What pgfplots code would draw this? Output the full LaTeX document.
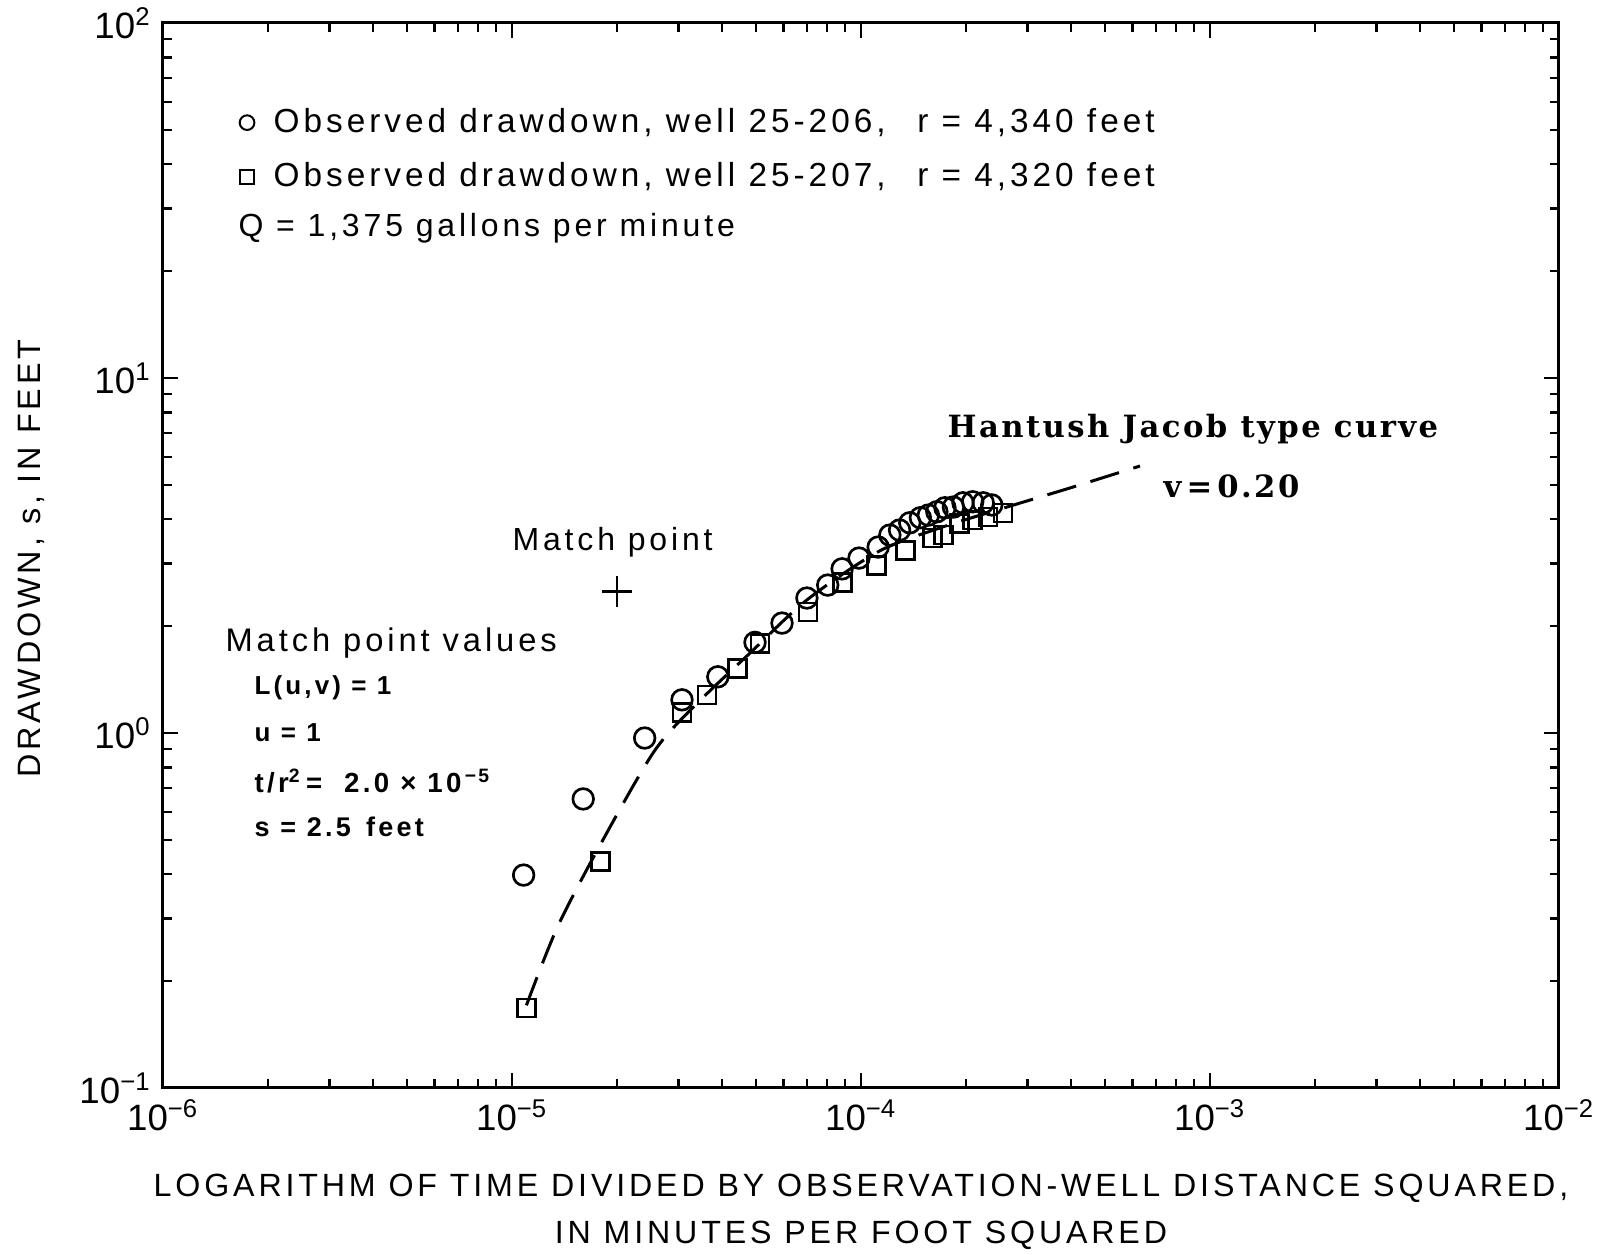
\documentclass[border=0pt]{standalone}
\usepackage{pgfplots}
\pgfplotsset{compat=1.18}
\usepackage{fontspec}
\setmainfont{Liberation Sans}
\newfontfamily\lsans[LetterSpace=12]{Liberation Sans}
\newfontfamily\hserif[LetterSpace=8]{DejaVu Serif}
\begin{document}
\begin{tikzpicture}
\begin{axis}[
  name=ax,
  xmode=log, ymode=log,
  scale only axis,
  width=418.8pt, height=319.5pt,
  xmin=1e-6, xmax=1e-2, ymin=0.1, ymax=100,
  axis line style={line width=0.9pt},
  every tick/.style={line width=0.7pt, black},
  tick align=inside,
  major tick length=4.5pt, minor tick length=2.8pt,
  xtick={1e-6,1e-5,1e-4,1e-3,1e-2},
  xticklabels={10\textsuperscript{−6},10\textsuperscript{−5},10\textsuperscript{−4},10\textsuperscript{−3},10\textsuperscript{−2}},
  ytick={0.1,1,10,100},
  yticklabels={10\textsuperscript{−1},10\textsuperscript{0},10\textsuperscript{1},10\textsuperscript{2}},
  tick label style={font=\fontsize{11}{12}\selectfont},
  xlabel={LOGARITHM OF TIME DIVIDED BY OBSERVATION-WELL DISTANCE SQUARED,\\IN MINUTES PER FOOT SQUARED},
  xlabel style={font=\lsans\fontsize{9.65}{14.1}\selectfont, align=center, at={(axis description cs:0.5,-0.116)}, anchor=center},
  ylabel={DRAWDOWN, s, IN FEET},
  ylabel style={font=\lsans\fontsize{9.7}{10}\selectfont, at={(axis description cs:-0.0945,0.497)}, anchor=center},
  legend style={at={(0.0545,0.927)}, anchor=north west, draw=none, fill=none,
    font=\lsans\fontsize{10}{11}\selectfont, row sep=3.6pt, inner sep=0pt},
  legend cell align=left,
]
\addplot[only marks, mark=o, mark size=3.1pt, mark options={line width=0.8pt},
  legend image post style={mark size=2.2pt, mark options={line width=0.6pt}}]
coordinates {
(1.08e-5,0.398) (1.60e-5,0.652) (2.40e-5,0.968) (3.07e-5,1.24) (3.89e-5,1.44)
(4.97e-5,1.80) (5.94e-5,2.04) (7.00e-5,2.40) (8.03e-5,2.61) (8.83e-5,2.90)
(9.87e-5,3.11) (1.12e-4,3.34) (1.21e-4,3.61) (1.29e-4,3.73) (1.38e-4,3.91)
(1.48e-4,4.04) (1.56e-4,4.11) (1.65e-4,4.20) (1.74e-4,4.31) (1.84e-4,4.33)
(1.96e-4,4.45) (2.09e-4,4.48) (2.24e-4,4.45) (2.37e-4,4.39)
};
\addlegendentry{\hspace{3.8pt}Observed drawdown, well 25-206,\hspace{9.5pt}r = 4,340 feet}
\addplot[only marks, mark=square, mark size=2.7pt, mark options={line width=0.8pt},
  legend image post style={mark size=2.0pt, mark options={line width=0.6pt}}]
coordinates {
(1.10e-5,0.168) (1.79e-5,0.434) (3.07e-5,1.14) (3.62e-5,1.28) (4.42e-5,1.52)
(5.14e-5,1.79) (7.05e-5,2.19) (8.87e-5,2.65) (1.11e-4,2.97) (1.34e-4,3.27)
(1.60e-4,3.54) (1.72e-4,3.61) (1.92e-4,3.90) (2.09e-4,3.98) (2.31e-4,4.06)
(2.55e-4,4.17)
};
\addlegendentry{\hspace{3.8pt}Observed drawdown, well 25-207,\hspace{9.5pt}r = 4,320 feet}
\addplot[no marks, line width=0.9pt, dash pattern=on 9pt off 4.5pt, smooth, forget plot]
coordinates {
(1.10e-5,0.171) (1.35e-5,0.284) (1.79e-5,0.484) (2.54e-5,0.88) (3.30e-5,1.18)
(4.81e-5,1.68) (7.0e-5,2.37) (1.12e-4,3.24) (1.68e-4,3.78) (2.62e-4,4.33)
(3.97e-4,4.90) (6.30e-4,5.65)
};
\addplot[only marks, mark=+, mark size=4.6pt, mark options={line width=0.8pt}, forget plot]
coordinates {(2.0e-5,2.5)};
\node[anchor=west, font=\lsans\fontsize{9.6}{11}\selectfont, inner sep=0pt] at (rel axis cs:0.0537,0.8075) {Q = 1,375 gallons per minute};
\node[anchor=west, font=\lsans\fontsize{9.6}{11}\selectfont, inner sep=0pt] at (rel axis cs:0.250,0.5127) {Match point};
\node[anchor=west, font=\lsans\fontsize{9.8}{11}\selectfont, inner sep=0pt] at (rel axis cs:0.0444,0.4178) {Match point values};
\node[anchor=west, font=\lsans\bfseries\fontsize{7.8}{9}\selectfont, inner sep=0pt] at (rel axis cs:0.0652,0.3756) {L(u,v) = 1};
\node[anchor=west, font=\lsans\bfseries\fontsize{7.8}{9}\selectfont, inner sep=0pt] at (rel axis cs:0.0652,0.3333) {u = 1};
\node[anchor=west, font=\lsans\bfseries\fontsize{8.3}{9}\selectfont, inner sep=0pt] at (rel axis cs:0.0652,0.2883) {t/r\textsuperscript{2}\,= \ 2.0 × 10\textsuperscript{\,−5}};
\node[anchor=west, font=\lsans\bfseries\fontsize{8.1}{9}\selectfont, inner sep=0pt] at (rel axis cs:0.0652,0.2451) {s = 2.5 \,feet};
\node[anchor=west, font=\hserif\bfseries\fontsize{9.2}{11}\selectfont, inner sep=0pt] at (rel axis cs:0.5616,0.6188) {Hantush Jacob type curve};
\node[anchor=west, font=\hserif\bfseries\fontsize{9.2}{11}\selectfont, inner sep=0pt] at (rel axis cs:0.7163,0.5653) {v\,=\,0.20};
\end{axis}
\pgfresetboundingbox
\useasboundingbox ([xshift=-48.9pt,yshift=-50.1pt]ax.south west) rectangle ([xshift=17.4pt,yshift=6.9pt]ax.north east);
\end{tikzpicture}
\end{document}
